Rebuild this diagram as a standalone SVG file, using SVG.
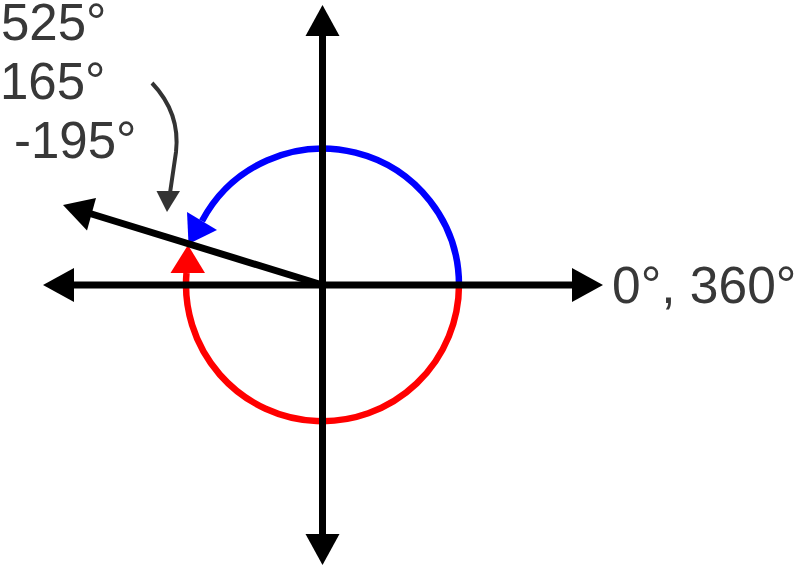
<svg xmlns="http://www.w3.org/2000/svg" width="800" height="566" viewBox="0 0 800 566">
  <style>
    .axis { stroke: #000; stroke-width: 7; fill: none; }
    .head { fill: #000; }
    .lbl { font-family: "Liberation Sans", Arial, sans-serif; fill: #383838; }
  </style>
  <rect width="800" height="566" fill="#fff"/>
  <g id="arcs">
    <path id="blue-arc" d="M459,285 A136.5,136.5 0 0 0 202,221" stroke="#0000ff" stroke-width="6.5" fill="none"/>
    <polygon id="blue-head" points="187,212 217,230 188.5,244" fill="#0000ff"/>
    <path id="red-arc" d="M459,285 A136.5,136.5 0 1 1 186.5,273" stroke="#ff0000" stroke-width="6.5" fill="none"/>
    <polygon id="red-head" points="170.5,273 205,273 188,245" fill="#ff0000"/>
  </g>
  <g id="connectors">
    <line class="axis" x1="70" y1="285" x2="576" y2="285"/>
    <polygon class="head" points="43,285 74,268 74,302"/>
    <polygon class="head" points="603,285 572,268 572,302"/>
    <line class="axis" x1="322.5" y1="32" x2="322.5" y2="538"/>
    <polygon class="head" points="322.5,5 305.5,36 339.5,36"/>
    <polygon class="head" points="322.5,565 305.5,534 339.5,534"/>
    <line class="axis" x1="322.5" y1="285" x2="90" y2="213.5"/>
    <polygon class="head" points="63,205 96,198 87,230.5"/>
    <path id="pointer" d="M152,83 C170,102 179,126 176,152 L170,193" stroke="#333" stroke-width="4" fill="none"/>
    <polygon points="156.5,191 180,191 167,212" fill="#333"/>
  </g>
  <g id="labels">
    <text class="lbl" x="1" y="40" font-size="51">525°</text>
    <text class="lbl" x="0" y="99" font-size="51">165°</text>
    <text class="lbl" x="14" y="158" font-size="51">-195°</text>
    <text class="lbl" x="612" y="303" font-size="51.5">0°, 360°</text>
  </g>
</svg>
